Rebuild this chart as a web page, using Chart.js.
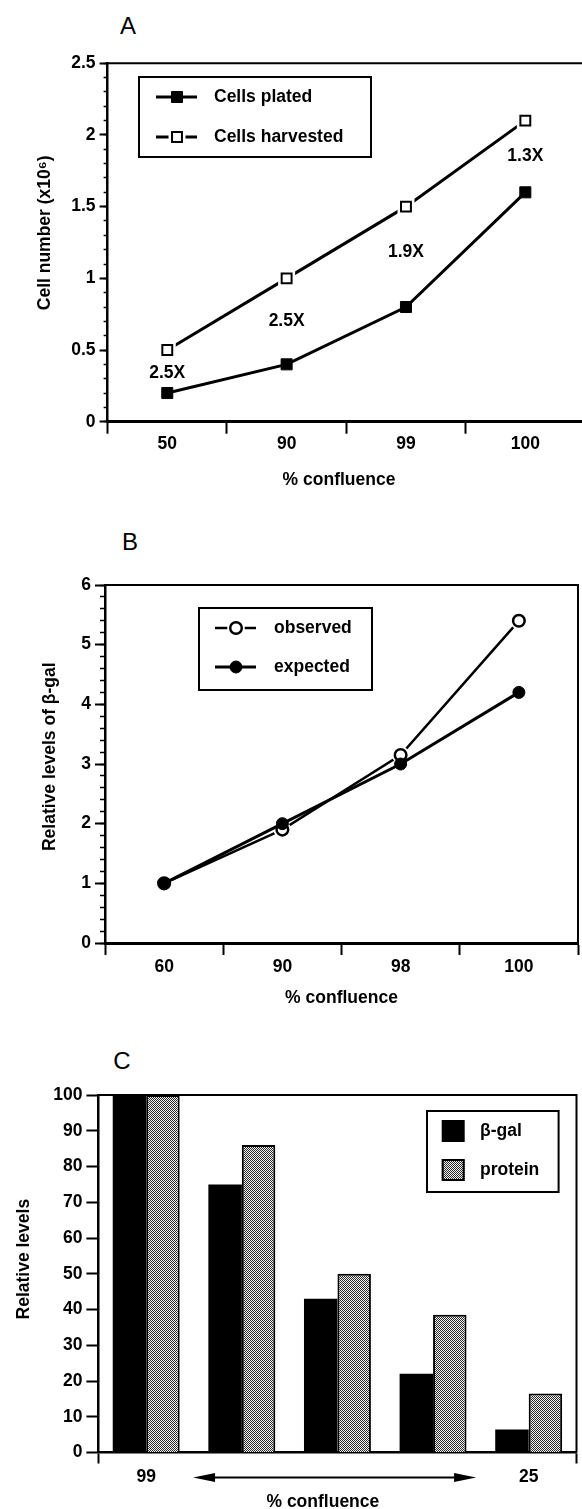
<!DOCTYPE html>
<html>
<head>
<meta charset="utf-8">
<script src="https://cdn.jsdelivr.net/npm/chart.js@4.4.0/dist/chart.umd.min.js"></script>
<style>
  html, body { margin: 0; padding: 0; width: 582px; height: 1509px; overflow: hidden; background: #fff; }
  canvas { position: absolute; left: 0; }
  .panel { position: absolute; width: 40px; text-align: center; font: 24px 'Liberation Sans', Arial, sans-serif; line-height: 26px; color: #000; }
</style>
</head>
<body>
<div class="panel" style="left:108px; top:13px">A</div>
<div class="panel" style="left:110px; top:529px">B</div>
<div class="panel" style="left:102px; top:1048px">C</div>
<canvas id="chartA" width="600" height="520" style="top:0"></canvas>
<canvas id="chartB" width="600" height="490" style="top:520px"></canvas>
<canvas id="chartC" width="600" height="503" style="top:1010px"></canvas>
<script>
// panel A
const confluenceA = ['50', '90', '99', '100'];
const cellsPlated = [0.2, 0.4, 0.8, 1.6];
const cellsHarvested = [0.5, 1.0, 1.5, 2.1];
const foldLabels = ['2.5X', '2.5X', '1.9X', '1.3X'];
const foldLabelY = [0.34, 0.70, 1.18, 1.85];
const yTicksA = [0, 0.5, 1, 1.5, 2, 2.5];

// panel B
const confluenceB = ['60', '90', '98', '100'];
const observed = [1.0, 1.9, 3.15, 5.4];
const expected = [1.0, 2.0, 3.0, 4.2];
const yTicksB = [0, 1, 2, 3, 4, 5, 6];

// panel C
const confluenceC = ['99', '', '', '', '25'];
const betaGal = [100, 75, 43, 22, 6.4];
const protein = [100, 86, 50, 38.5, 16.5];
const yTicksC = [0, 10, 20, 30, 40, 50, 60, 70, 80, 90, 100];

const FONT = "bold 17.5px 'Liberation Sans', Arial, sans-serif";
Chart.defaults.font.family = "'Liberation Sans', Arial, sans-serif";
Chart.defaults.font.size = 17.5;
Chart.defaults.font.weight = 'bold';
Chart.defaults.color = '#000';

function drawMarker(ctx, style, r, x, y) {
    ctx.beginPath();
    if (style === 'rect') {
        const h = r * Math.SQRT1_2;
        ctx.rect(x - h, y - h, 2 * h, 2 * h);
    } else {
        ctx.arc(x, y, r, 0, Math.PI * 2);
    }
}

// top + right edge of the plot box
const framePlugin = {
    id: 'frame',
    beforeDatasetsDraw(chart) {
        const { ctx, chartArea: a } = chart;
        ctx.save();
        ctx.strokeStyle = '#000';
        ctx.lineWidth = 2;
        ctx.beginPath();
        ctx.moveTo(a.left, a.top);
        ctx.lineTo(a.right, a.top);
        ctx.lineTo(a.right, a.bottom);
        ctx.stroke();
        ctx.restore();
    }
};

// white gap around open markers
const haloPlugin = {
    id: 'halo',
    afterDatasetDraw(chart, args) {
        const ds = chart.data.datasets[args.index];
        if (!ds.halo) return;
        const ctx = chart.ctx;
        args.meta.data.forEach(pt => {
            ctx.save();
            ctx.fillStyle = '#fff';
            drawMarker(ctx, ds.pointStyle, pt.options.radius + ds.halo, pt.x, pt.y);
            ctx.fill();
            ctx.restore();
            pt.draw(ctx, chart.chartArea);
        });
    }
};

const boxLegendPlugin = {
    id: 'boxLegend',
    afterDraw(chart, args, o) {
        const ctx = chart.ctx;
        ctx.save();
        ctx.strokeStyle = '#000';
        ctx.lineWidth = 2;
        ctx.strokeRect(o.left, o.top, o.right - o.left, o.bottom - o.top);
        ctx.font = FONT;
        ctx.textBaseline = 'middle';
        chart.data.datasets.forEach((ds, i) => {
            const y = o.rows[i];
            if (o.kind === 'line') {
                ctx.strokeStyle = ds.borderColor;
                ctx.lineWidth = ds.borderWidth;
                ctx.beginPath();
                ctx.moveTo(o.symLeft, y);
                ctx.lineTo(o.symRight, y);
                ctx.stroke();
                if (ds.halo) {
                    ctx.fillStyle = '#fff';
                    drawMarker(ctx, ds.pointStyle, ds.pointRadius + ds.halo, o.markX, y);
                    ctx.fill();
                }
                ctx.fillStyle = ds.pointBackgroundColor;
                ctx.strokeStyle = ds.pointBorderColor;
                ctx.lineWidth = ds.pointBorderWidth;
                drawMarker(ctx, ds.pointStyle, ds.pointRadius, o.markX, y);
                ctx.fill();
                ctx.stroke();
            } else {
                ctx.fillStyle = ds.backgroundColor;
                ctx.fillRect(o.symLeft, y - o.symH / 2, o.symW, o.symH);
                if (ds.borderWidth) {
                    ctx.strokeStyle = ds.borderColor;
                    ctx.lineWidth = ds.borderWidth;
                    ctx.strokeRect(o.symLeft + 1, y - o.symH / 2 + 1, o.symW - 2, o.symH - 2);
                }
            }
            ctx.fillStyle = '#000';
            ctx.fillText(ds.label, o.textX, y);
        });
        ctx.restore();
    }
};

const foldPlugin = {
    id: 'foldLabels',
    afterDatasetsDraw(chart, args, o) {
        const { ctx, scales: { x, y } } = chart;
        ctx.save();
        ctx.font = FONT;
        ctx.fillStyle = '#000';
        ctx.textAlign = 'center';
        ctx.textBaseline = 'middle';
        o.labels.forEach((t, i) => ctx.fillText(t, x.getPixelForValue(i), y.getPixelForValue(o.values[i])));
        ctx.restore();
    }
};

const arrowPlugin = {
    id: 'rangeArrow',
    afterDraw(chart, args, o) {
        const { ctx, scales: { x } } = chart;
        const x0 = x.getPixelForValue(o.from);
        const x1 = x.getPixelForValue(o.to);
        const y = chart.chartArea.bottom + o.offset;
        const hl = 22, hh = 4.5;
        ctx.save();
        ctx.strokeStyle = '#000';
        ctx.fillStyle = '#000';
        ctx.lineWidth = 2;
        ctx.beginPath();
        ctx.moveTo(x0 + hl - 2, y);
        ctx.lineTo(x1 - hl + 2, y);
        ctx.stroke();
        ctx.beginPath();
        ctx.moveTo(x0, y); ctx.lineTo(x0 + hl, y - hh); ctx.lineTo(x0 + hl, y + hh); ctx.closePath();
        ctx.moveTo(x1, y); ctx.lineTo(x1 - hl, y - hh); ctx.lineTo(x1 - hl, y + hh); ctx.closePath();
        ctx.fill();
        ctx.restore();
    }
};

const tickGrid = (len, w) => ({ drawOnChartArea: false, tickLength: len, tickWidth: w, tickColor: '#000' });

// ---- A ----
new Chart(document.getElementById('chartA'), {
    type: 'line',
    data: {
        labels: confluenceA,
        datasets: [{
            label: 'Cells plated',
            data: cellsPlated,
            borderColor: '#000', borderWidth: 3,
            pointStyle: 'rect', pointRadius: 7.8,
            pointBackgroundColor: '#000', pointBorderColor: '#000', pointBorderWidth: 1
        }, {
            label: 'Cells harvested',
            data: cellsHarvested,
            borderColor: '#000', borderWidth: 3,
            pointStyle: 'rect', pointRadius: 7,
            pointBackgroundColor: '#fff', pointBorderColor: '#000', pointBorderWidth: 2,
            halo: 5
        }]
    },
    options: {
        responsive: false, animation: false,
        layout: { padding: { top: 63.3, right: 15, bottom: 29.5, left: 0 } },
        plugins: {
            legend: { display: false }, tooltip: { enabled: false },
            boxLegend: { kind: 'line', left: 139, top: 77, right: 371, bottom: 157, rows: [97, 137], symLeft: 156, symRight: 197, markX: 177, textX: 214 },
            foldLabels: { labels: foldLabels, values: foldLabelY }
        },
        scales: {
            x: {
                offset: true,
                grid: Object.assign(tickGrid(12, 2), { offset: true }),
                border: { display: true, color: '#000', width: 3 },
                ticks: { padding: 0, maxRotation: 0, autoSkip: false },
                title: { display: true, text: '% confluence   ', padding: 0 },
                afterFit: s => { s.height = 68.8; }
            },
            y: {
                position: 'left', weight: 1, min: 0, max: 2.5,
                afterBuildTicks: s => { s.ticks = yTicksA.map(v => ({ value: v })); },
                afterFit: s => { s.width = 107.6; },
                ticks: { padding: 4, callback: v => String(v) },
                grid: tickGrid(8, 2),
                border: { display: true, color: '#000', width: 2.5 },
                title: { display: true, text: '    Cell number (x10\u2076)', padding: { top: 34.5, bottom: 0 } }
            },
            yMinor: {
                position: 'left', weight: 0, min: 0, max: 2.5,
                ticks: { display: false, stepSize: 0.1 },
                grid: tickGrid(4, 1.5),
                border: { display: false },
                afterFit: s => { s.width = 0; }
            }
        }
    },
    plugins: [framePlugin, haloPlugin, boxLegendPlugin, foldPlugin]
});

// ---- B ----
new Chart(document.getElementById('chartB'), {
    type: 'line',
    data: {
        labels: confluenceB,
        datasets: [{
            label: 'observed',
            data: observed,
            order: 2,
            borderColor: '#000', borderWidth: 2.5,
            pointStyle: 'circle', pointRadius: 5.8,
            pointBackgroundColor: '#fff', pointBorderColor: '#000', pointBorderWidth: 2.5,
            halo: 3
        }, {
            label: 'expected',
            data: expected,
            order: 1,
            borderColor: '#000', borderWidth: 3,
            pointStyle: 'circle', pointRadius: 6,
            pointBackgroundColor: '#000', pointBorderColor: '#000', pointBorderWidth: 1
        }]
    },
    options: {
        responsive: false, animation: false,
        layout: { padding: { top: 65, right: 22, bottom: 1.5, left: 0 } },
        plugins: {
            legend: { display: false }, tooltip: { enabled: false },
            boxLegend: { kind: 'line', left: 199, top: 88, right: 372, bottom: 170, rows: [108, 147], symLeft: 215, symRight: 256, markX: 236, textX: 274 }
        },
        scales: {
            x: {
                offset: true,
                grid: Object.assign(tickGrid(12, 2), { offset: true }),
                border: { display: true, color: '#000', width: 3 },
                ticks: { padding: 1.5, maxRotation: 0, autoSkip: false },
                title: { display: true, text: '% confluence', padding: 0 },
                afterFit: s => { s.height = 65.5; }
            },
            y: {
                position: 'left', weight: 1, min: 0, max: 6,
                afterBuildTicks: s => { s.ticks = yTicksB.map(v => ({ value: v })); },
                afterFit: s => { s.width = 105; },
                ticks: { padding: 4, callback: v => String(v) },
                grid: tickGrid(10, 2),
                border: { display: true, color: '#000', width: 2.5 },
                title: { display: true, text: '   Relative levels of \u03b2-gal', padding: { top: 39.5, bottom: 0 } }
            },
            yMinor: {
                position: 'left', weight: 0, min: 0, max: 6,
                ticks: { display: false, stepSize: 0.2 },
                grid: tickGrid(5, 1.5),
                border: { display: false },
                afterFit: s => { s.width = 0; }
            }
        }
    },
    plugins: [framePlugin, haloPlugin, boxLegendPlugin]
});

// ---- C ----
function stipple() {
    const c = document.createElement('canvas');
    c.width = 2; c.height = 2;
    const g = c.getContext('2d');
    g.fillStyle = '#f4f4f4';
    g.fillRect(0, 0, 2, 2);
    g.fillStyle = '#2a2a2a';
    g.fillRect(0, 0, 1, 1);
    g.fillRect(1, 1, 1, 1);
    return document.getElementById('chartC').getContext('2d').createPattern(c, 'repeat');
}

const edgeTick = c => (c.type === 'scale' || c.index === 0) ? '#000' : 'rgba(0,0,0,0)';

new Chart(document.getElementById('chartC'), {
    type: 'bar',
    data: {
        labels: confluenceC,
        datasets: [{
            label: '\u03b2-gal',
            data: betaGal,
            backgroundColor: '#000', borderColor: '#000', borderWidth: 0
        }, {
            label: 'protein',
            data: protein,
            backgroundColor: stipple(), borderColor: '#000', borderWidth: 2
        }]
    },
    options: {
        responsive: false, animation: false,
        datasets: { bar: { categoryPercentage: 0.7, barPercentage: 1.0 } },
        layout: { padding: { top: 85, right: 23.5, bottom: 0.3, left: 0 } },
        plugins: {
            legend: { display: false }, tooltip: { enabled: false },
            boxLegend: { kind: 'swatch', left: 427, top: 101, right: 558.6, bottom: 182, rows: [121, 160], symLeft: 441.7, symW: 23, symH: 22, textX: 480 },
            rangeArrow: { from: 0.49, to: 3.45, offset: 25 }
        },
        scales: {
            x: {
                grid: { offset: true, drawOnChartArea: false, tickLength: 11, tickWidth: 2, tickColor: edgeTick },
                border: { display: true, color: '#000', width: 2.5 },
                ticks: { padding: 3.2, maxRotation: 0, autoSkip: false },
                title: { display: true, text: '% confluence      ', padding: 0 },
                afterFit: s => { s.height = 60.2; }
            },
            y: {
                min: 0, max: 100,
                afterBuildTicks: s => { s.ticks = yTicksC.map(v => ({ value: v })); },
                afterFit: s => { s.width = 98.4; },
                ticks: { padding: 4 },
                grid: tickGrid(12, 2),
                border: { display: true, color: '#000', width: 2.5 },
                title: { display: true, text: '      Relative levels', padding: { top: 13.5, bottom: 0 } }
            }
        }
    },
    plugins: [framePlugin, boxLegendPlugin, arrowPlugin]
});
</script>
</body>
</html>
